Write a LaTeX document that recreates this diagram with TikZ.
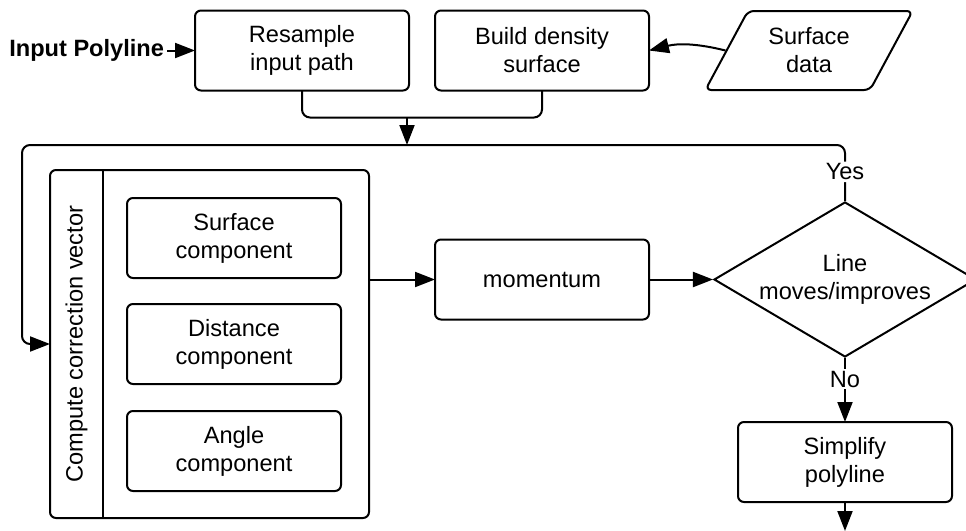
\documentclass[tikz,border=0pt]{standalone}
\usepackage{fontspec}
\setmainfont{Liberation Sans}
\usetikzlibrary{arrows.meta, positioning, shapes.geometric, calc}
\tikzset{
    %Define standard arrow tip
    >={Triangle[length=10pt,width=7.5pt]},
}

\begin{document}
\fontsize{11.8}{14}\selectfont
\begin{tikzpicture}[line width=1pt]
    \tikzset{
      wn/.style={draw, fill=white,
                 minimum width=107pt, minimum height=40pt,
                 align=center, outer sep=0pt,
                 shape=rectangle,
                 rounded corners=3pt},
      dat/.style={draw, shape=trapezium, align=center,
                  trapezium left angle=61, trapezium right angle=119,
                  trapezium stretches=true,
                  minimum width=104pt, minimum height=39.5pt,
                  rounded corners=3pt},
      dec/.style={draw, shape=diamond, aspect=1.69, inner sep=0pt,
                  minimum width=131pt, minimum height=77.5pt, align=center},
      lbl/.style={fill=white, inner sep=1pt}
    }
    \useasboundingbox (0,0) rectangle (483pt,-265.5pt);

    \node [wn] (resample) at (151pt,-25.25pt) {Resample\\input path};
    \node [wn, right=13pt of resample] (build) {Build density\\surface};
    \node [dat] (sdata) at (404.5pt,-25.25pt) {Surface\\data};
    \node [left=14pt of resample, font=\bfseries, inner sep=1pt] (inpoly) {Input Polyline};

    \node [wn, below=74.5pt of build] (mom) {momentum};
    \node [dec, right=32pt of mom] (test) {Line\\moves/improves};
    \node [wn, below=32pt of test] (simp) {Simplify\\polyline};

    % container for the three components
    \node [wn, minimum width=159.5pt, minimum height=174pt] (cvec) at (104.75pt,-172pt) {};
    \node [rotate=90, minimum width=174pt, minimum height=26.5pt, inner sep=0pt,
           outer sep=0pt, anchor=north] (cvtitle) at (cvec.west) {Compute correction vector};
    \draw (cvtitle.south west) -- (cvtitle.south east);

    \node [wn, right=12pt of cvtitle.south] (dist) {Distance\\component};
    \node [wn, above=13pt of dist] (surf) {Surface\\component};
    \node [wn, below=13.5pt of dist] (ang) {Angle\\component};

    \coordinate (mrg) at ($(resample.south)+(52.5pt,-13.5pt)$);
    \coordinate (loopL) at ($(cvec.north west)+(-14pt,12.5pt)$);
    \coordinate [below=14.5pt of simp] (fin);

    \draw[->] (inpoly) -- (resample);
    \draw[->] (sdata.west) to[bend right=14] (build.east);
    \draw[->] (cvec.east |- mom.west) -- (mom.west);
    \draw[->] (mom) -- (test);
    \draw[->] (simp) -- (fin);
    \draw[->] (test.south) -- node[lbl, pos=0.33] {No} (simp.north);

    \draw[rounded corners=4pt] (resample.south) |- (mrg) -| (build.south);
    \draw[->] (mrg) -- (mrg |- loopL);
    \draw[->, rounded corners=4pt] (test.north) |- node[lbl, pos=0.26] {Yes} (loopL) |- (cvec.west);
\end{tikzpicture}
\end{document}
